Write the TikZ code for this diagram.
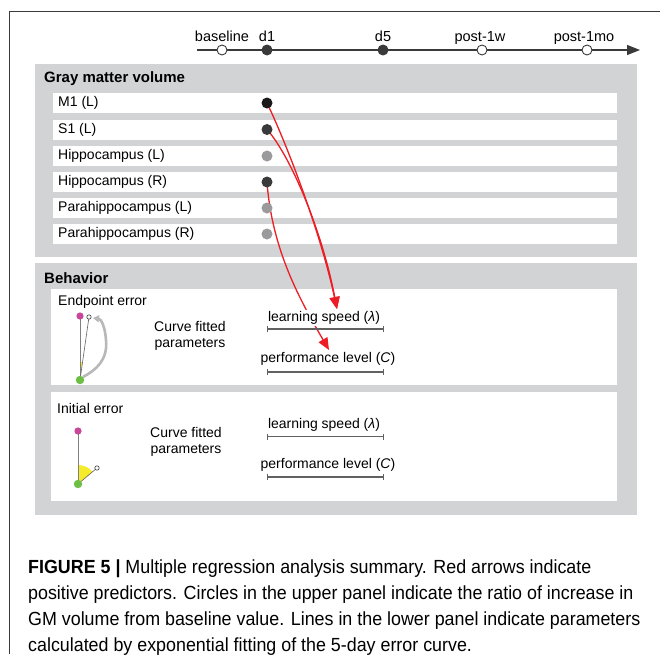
\documentclass[tikz,border=0pt]{standalone}
\usepackage{fontspec}
\setmainfont{Liberation Sans}
\newfontfamily\capfont[FakeStretch=0.94]{Liberation Sans}
\usetikzlibrary{arrows.meta,calc}
\pgfdeclarelayer{bg}
\pgfdeclarelayer{arr}
\pgfsetlayers{bg,arr,main}
\definecolor{panelgray}{HTML}{D1D3D4}
\definecolor{arrred}{HTML}{EE1C24}
\definecolor{magdot}{HTML}{C8479B}
\definecolor{grndot}{HTML}{6DBE45}
\definecolor{icoyellow}{HTML}{F5EB2A}
\definecolor{linegray}{HTML}{3A3A3A}
\definecolor{dotblack}{HTML}{1A1A1A}
\definecolor{dotdark}{HTML}{3A3A3A}
\definecolor{dotlight}{HTML}{9A9A9C}
\definecolor{curvegray}{HTML}{B8B8B8}
\tikzset{
  txt/.style={font=\fontsize{14}{16}\selectfont, inner sep=0pt},
  ptitle/.style={font=\fontsize{15}{17}\selectfont\bfseries, inner sep=0pt, anchor=west},
  rowlbl/.style={txt, anchor=west},
  tlbl/.style={font=\fontsize{14.5}{16}\selectfont, inner sep=0pt, anchor=base},
  tldot/.style={circle, draw=linegray, line width=0.9pt, inner sep=0pt, minimum size=10pt},
  gmdot/.style={circle, inner sep=0pt, minimum size=11pt, fill=#1},
  redarrow/.style={draw=arrred, line width=1.3pt, -{Triangle[length=12pt,width=10pt]}},
  parbar/.style={draw=linegray!80, line width=1.2pt, {Bar[width=6pt]}-{Bar[width=6pt]}},
  framel/.style={draw=linegray, line width=1pt},
}
\begin{document}
\begin{tikzpicture}[x=1pt,y=-1pt]
\useasboundingbox (0,0) rectangle (660,654);
% frame
\draw[framel] (660,11) -- (9,11) -- (9,654);
% timeline
\coordinate (tls) at (197,50);
\coordinate (tle) at (640,50);
\draw[draw=linegray, line width=1.2pt, -{Triangle[length=13pt,width=10pt]}] (tls) -- (tle);
\node[tldot, fill=white] (tb) at (222,50) {};
\node[tldot, fill=dotdark] (td1) at (267,50) {};
\node[tldot, fill=dotdark] (td5) at (383,50) {};
\node[tldot, fill=white] (tw) at (482,50) {};
\node[tldot, fill=white] (tm) at (587,50) {};
\node[tlbl] (lb) at (222,41) {baseline};
\node[tlbl] (ld1) at (267,41) {d1};
\node[tlbl] (ld5) at (383,41) {d5};
\node[tlbl] (lw) at (480,41) {post-1w};
\node[tlbl] (lm) at (584,41) {post-1mo};
% panels
\begin{pgfonlayer}{bg}
\fill[panelgray] (35,64) rectangle (637,257);
\fill[panelgray] (35,263) rectangle (637,515);
\foreach \y in {103,129.5,156,182,208,234}{
  \fill[white] (53,\y-10) rectangle (617,\y+10);
}
\fill[white] (51,289) rectangle (617,385);
\fill[white] (51,392) rectangle (617,501);
\end{pgfonlayer}
\node[ptitle] (gmt) at (44,79) {Gray matter volume};
\node[ptitle] (bht) at (44,278) {Behavior};
% rows
\node[rowlbl] (r1) at (58,103) {M1 (L)};
\node[rowlbl] (r2) at (58,129.5) {S1 (L)};
\node[rowlbl] (r3) at (58,156) {Hippocampus (L)};
\node[rowlbl] (r4) at (58,182) {Hippocampus (R)};
\node[rowlbl] (r5) at (58,208) {Parahippocampus (L)};
\node[rowlbl] (r6) at (58,234) {Parahippocampus (R)};
\node[gmdot=dotblack] (d1) at (267,103) {};
\node[gmdot=dotdark] (d2) at (267,129.5) {};
\node[gmdot=dotlight] (d3) at (267,156) {};
\node[gmdot=dotdark] (d4) at (267,182) {};
\node[gmdot=dotlight] (d5) at (267,208) {};
\node[gmdot=dotlight] (d6) at (267,234) {};
% behavior box 1
\node[rowlbl] (ep) at (58,302) {Endpoint error};
\node[txt, align=center] (cf1) at (190,335.5) {Curve fitted\\parameters};
\node[txt, fill=white, inner sep=1pt] (ls1) at (324,318) {learning speed (\textit{λ})};
\node[txt] (pl1) at (328,359) {performance level (\textit{C})};
\coordinate (b1a) at (267,329); \coordinate (b1b) at (384,329);
\coordinate (b2a) at (267,372); \coordinate (b2b) at (384,372);
\draw[parbar] (b1a) -- (b1b);
\draw[parbar] (b2a) -- (b2b);
% behavior box 2
\node[rowlbl] (ie) at (57,408) {Initial error};
\node[txt, align=center] (cf2) at (186,442) {Curve fitted\\parameters};
\node[txt] (ls2) at (324,425) {learning speed (\textit{λ})};
\node[txt] (pl2) at (328,465) {performance level (\textit{C})};
\coordinate (b3a) at (267,436.5); \coordinate (b3b) at (384,436.5);
\coordinate (b4a) at (267,477); \coordinate (b4b) at (384,477);
\draw[parbar] (b3a) -- (b3b);
\draw[parbar] (b4a) -- (b4b);
% icon 1
\coordinate (m1) at (80,316);
\coordinate (g1) at (80,380);
\coordinate (o1) at (89,317);
\fill[icoyellow] (g1) -- (80,362) -- (82.3,362) -- cycle;
\draw[gray, line width=0.8pt] (m1) -- (g1);
\draw[linegray!80, line width=0.6pt] (g1) -- (o1);
\draw[curvegray, line width=2.6pt, -{Triangle[length=6pt,width=7pt]}] (83,377) .. controls (96,370) and (108,360) .. (106,340) .. controls (105,326) and (101,319) .. (93,318);
\fill[magdot] (m1) circle (3.6);
\fill[grndot] (g1) circle (4.2);
\draw[linegray, fill=white, line width=0.6pt] (o1) circle (2.2);
% icon 2
\coordinate (m2) at (78,431);
\coordinate (g2) at (78,484);
\coordinate (o2) at (97,468);
\fill[icoyellow] (g2) -- ++(-90:19) arc[start angle=-90, end angle=-40, radius=19] -- cycle;
\draw[gray, line width=0.8pt] (m2) -- (g2);
\draw[linegray!80, line width=0.6pt] (g2) -- (o2);
\fill[magdot] (m2) circle (3.6);
\fill[grndot] (g2) circle (4.2);
\draw[linegray, fill=white, line width=0.6pt] (o2) circle (2.2);
% red arrows
\coordinate (tipA) at (337,309);
\coordinate (tipB) at (329,350);
\begin{pgfonlayer}{arr}
\draw[redarrow] (d1.center) .. controls (285,140) and (320,230) .. (tipA);
\draw[redarrow] (d2.center) .. controls (290,155) and (322,230) .. (tipA);
\draw[redarrow] (d4.center) .. controls (272,250) and (300,300) .. (tipB);
\end{pgfonlayer}
% caption
\node[anchor=base west, align=left, inner sep=0pt, font=\capfont\fontsize{19}{26}\selectfont] (cap) at (28,651)
{{\bfseries FIGURE 5 |} Multiple regression analysis summary. Red arrows indicate\\
positive predictors. Circles in the upper panel indicate the ratio of increase in\\
GM volume from baseline value. Lines in the lower panel indicate parameters\\
calculated by exponential fitting of the 5-day error curve.};
\end{tikzpicture}
\end{document}
